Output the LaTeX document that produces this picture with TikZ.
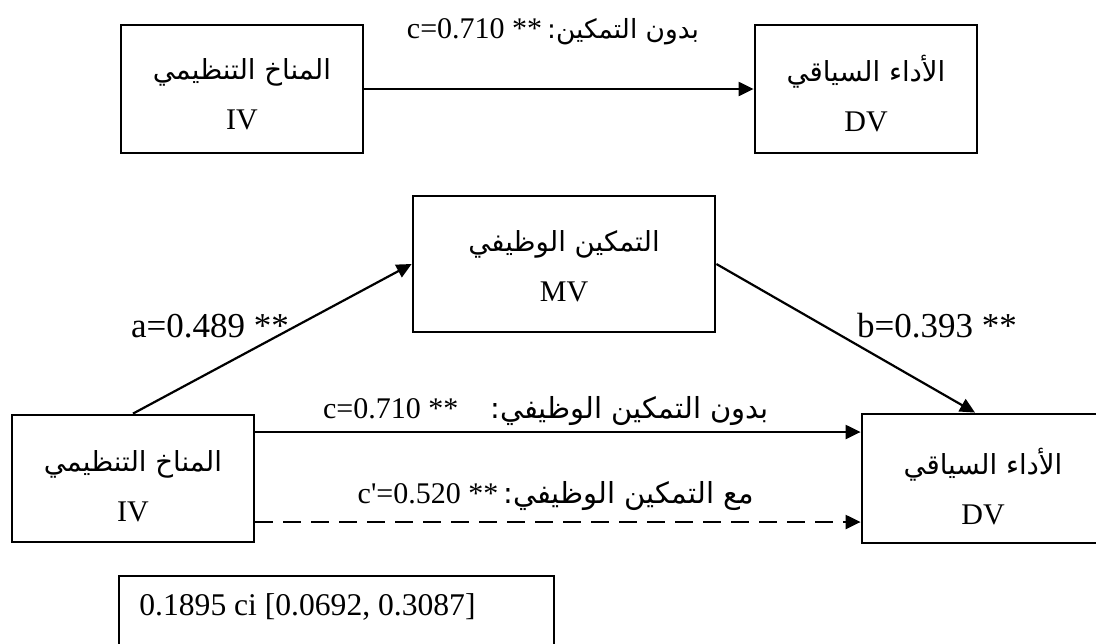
\documentclass[tikz,border=0pt]{standalone}
\usepackage{fontspec}
\setmainfont{Liberation Serif}
\newfontfamily\arabicfont[Script=Arabic]{DejaVu Sans}
\TeXXeTstate=1
\usetikzlibrary{arrows.meta}

% Arabic text runs, set right to left (box titles and path labels)
\newcommand{\ar}[1]{{\arabicfont\fontsize{13.8pt}{16pt}\selectfont\beginR #1\endR}}
\newcommand{\arl}[1]{{\arabicfont\fontsize{13.2pt}{15pt}\selectfont\beginR #1\endR}}
\newcommand{\arm}[1]{{\arabicfont\fontsize{14.5pt}{17pt}\selectfont\beginR #1\endR}}

\tikzset{
  var/.style={draw, line width=1.4pt, inner sep=0pt},
  vartext/.style={align=center, inner sep=0pt,
    font=\fontsize{15pt}{25pt}\selectfont},
  path/.style={line width=1.1pt, -{Triangle[length=7.5pt,width=7pt]}},
  coef/.style={font=\fontsize{15pt}{18pt}\selectfont, inner sep=0pt},
  bigcoef/.style={font=\fontsize{17.5pt}{20pt}\selectfont, inner sep=0pt},
}

\begin{document}
\begin{tikzpicture}[x=0.5pt, y=-0.5pt]
\useasboundingbox (0,0) rectangle (1096,643);
\clip (0,0) rectangle (1096,643);

% simple model: total effect
\node[var, minimum width=121pt, minimum height=64pt] (IVt) at (242,89) {};
\node[vartext] (IVt-t) at ([yshift=-2.5pt]IVt.center) {\ar{المناخ التنظيمي}\\IV};
\node[var, minimum width=111pt, minimum height=64pt] (DVt) at (866,89) {};
\node[vartext] (DVt-t) at ([yshift=-2.5pt]DVt.center) {\ar{الأداء السياقي}\\DV};
\draw[path] (IVt.east) -- (DVt.west);
\node[coef] (ctop) at (553,32) {c=0.710 **\,\arl{بدون التمكين:}};

% mediation model
\node[var, minimum width=151pt, minimum height=68pt] (MV) at (564,264) {};
\node[vartext] (MV-t) at ([yshift=-1pt]MV.center) {\ar{التمكين الوظيفي}\\MV};
\node[var, minimum width=121pt, minimum height=63.5pt] (IVb) at (133,478.5) {};
\node[vartext] (IVb-t) at ([yshift=-4pt]IVb.center) {\ar{المناخ التنظيمي}\\IV};
\node[var, minimum width=121pt, minimum height=64.5pt] (DVb) at (983,478.5) {};
\node[vartext] (DVb-t) at ([yshift=-4pt]DVb.center) {\ar{الأداء السياقي}\\DV};

\draw[path] (IVb.north) -- (MV.west);
\draw[path] (MV.east) -- ([xshift=-4pt]DVb.north);
\draw[path] ([yshift=23.25pt]IVb.east) -- ([yshift=23.25pt]DVb.west);
\draw[path, dash pattern=on 9pt off 5pt] ([yshift=-21.75pt]IVb.east) -- ([yshift=-21.75pt]DVb.west);

\node[bigcoef] (alab) at (210,326) {a=0.489 **};
\node[bigcoef] (blab) at (937,326) {b=0.393 **};
\node[coef] (cb) at (546,411) {c=0.710 **\hspace{16pt}\arm{بدون التمكين الوظيفي:}};
\node[coef] (cpb) at (556,496) {c\textquotesingle=0.520 **\,\arm{مع التمكين الوظيفي:}};

% indirect effect with confidence interval
\node[draw, line width=0.8pt, minimum width=217.5pt, minimum height=62pt,
      anchor=north west, inner sep=0pt] (CI) at (118,575) {};
\node[coef, anchor=west, font=\fontsize{15.8pt}{18pt}\selectfont] (citext) at (139,607)
  {0.1895 ci [0.0692, 0.3087]};
\end{tikzpicture}
\end{document}
